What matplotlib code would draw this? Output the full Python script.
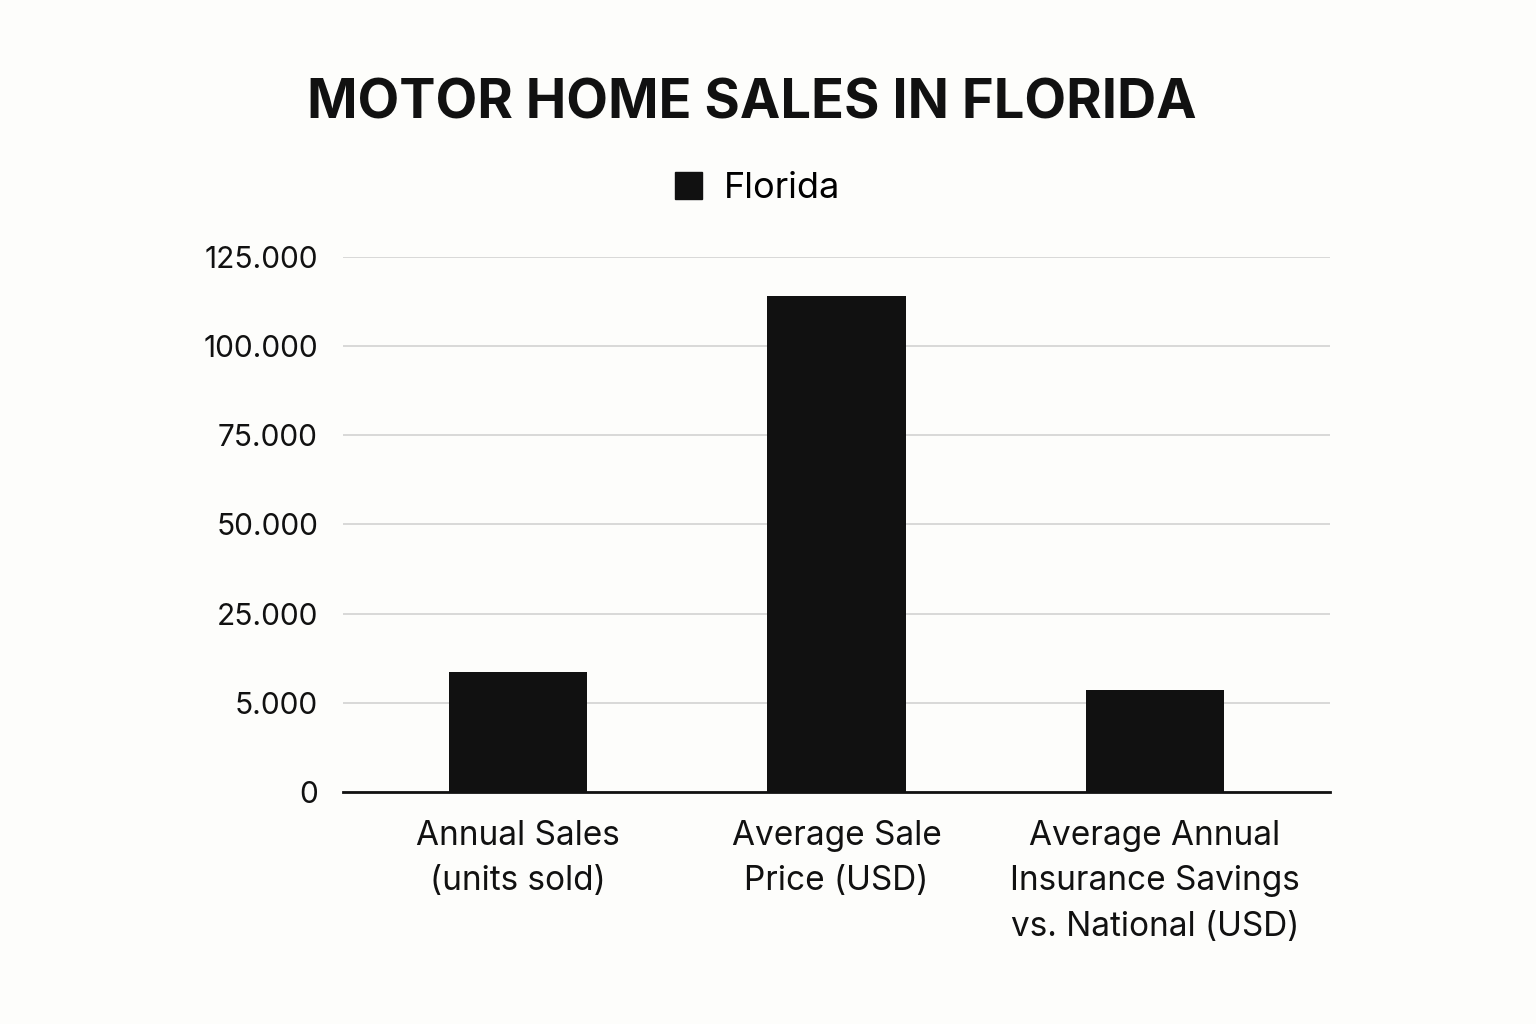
import matplotlib
matplotlib.use("Agg")
import matplotlib.pyplot as plt
import numpy as np
from matplotlib.patches import Patch

title = "MOTOR HOME SALES IN FLORIDA"
series_name = "Florida"
categories = ["Annual Sales\n(units sold)", "Average Sale\nPrice (USD)",
              "Average Annual\nInsurance Savings\nvs. National (USD)"]
values = [12000, 114000, 7900]
yticks = [0, 5000, 25000, 50000, 75000, 100000, 125000]
ytick_labels = ["0", "5.000", "25.000", "50.000", "75.000", "100.000", "125.000"]

# piecewise-linear scale: equal spacing between the listed ticks
tick_arr = np.array(yticks, dtype=float)
pos_arr = np.arange(len(yticks), dtype=float)

def fwd(v):
    return np.interp(v, tick_arr, pos_arr)

def inv(p):
    return np.interp(p, pos_arr, tick_arr)

bg = "#fdfdfb"
bar_color = "#111111"

fig = plt.figure(figsize=(15.36, 10.24), dpi=100, facecolor=bg)
ax = fig.add_axes([0.2233, 0.2266, 0.8659 - 0.2233, 0.749 - 0.2266], facecolor=bg)
ax.set_yscale("function", functions=(fwd, inv))

x = np.arange(len(categories))
ax.bar(x, values, width=0.435, color=bar_color, zorder=3)

ax.set_xlim(-0.55, 2.55)
ax.set_ylim(0, 125000)
ax.set_yticks(yticks)
ax.set_yticklabels(ytick_labels)
ax.yaxis.set_minor_locator(matplotlib.ticker.NullLocator())
ax.set_xticks(x)
ax.set_xticklabels(categories, linespacing=1.55)

for s in ["top", "right", "left"]:
    ax.spines[s].set_visible(False)
ax.spines["bottom"].set_color("#111111")
ax.spines["bottom"].set_linewidth(2)
ax.spines["bottom"].set_zorder(4)
ax.grid(axis="y", color="#d2d2d2", linewidth=1.2, zorder=0)
ax.tick_params(axis="both", length=0)
ax.tick_params(axis="y", pad=18, labelsize=21.5, labelcolor="#111111")
ax.tick_params(axis="x", pad=20, labelsize=24, labelcolor="#111111")
for lab in ax.get_yticklabels() + ax.get_xticklabels():
    lab.set_fontfamily("Inter")

fig.text(0.4896, 0.898, title, ha="center", va="center", fontsize=39,
         fontweight="bold", family="Inter", color="#111111")

handles = [Patch(facecolor=bar_color, edgecolor=bar_color, label=series_name)]
leg = fig.legend(handles=handles, loc="center", bbox_to_anchor=(0.493, 0.816),
                 frameon=False, prop={"family": "Inter", "size": 26},
                 handlelength=0.75, handleheight=0.75, handletextpad=0.6)

fig.savefig("out.png", dpi=100, facecolor=bg)
